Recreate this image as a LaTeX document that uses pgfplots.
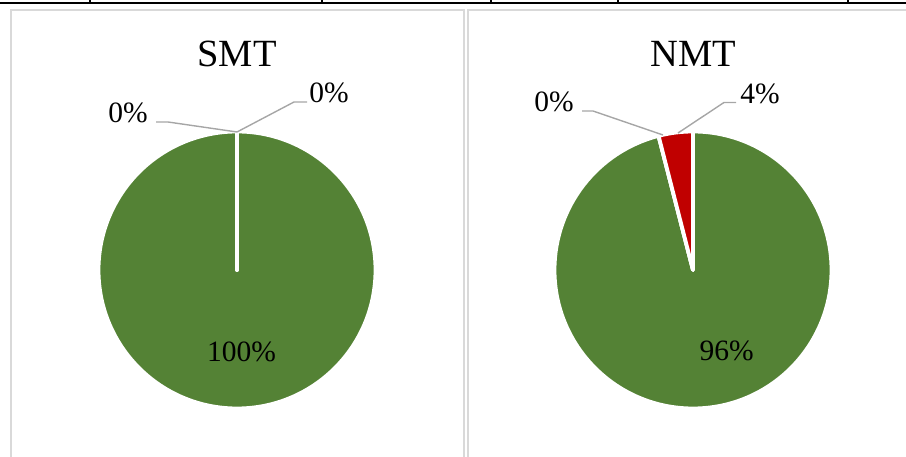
\documentclass[border=0pt]{standalone}
\usepackage{pgfplots}
\usepackage{pgfplotstable}
\pgfplotsset{compat=1.18}
\usepackage{fontspec}
\setmainfont{Liberation Serif}

\definecolor{pieGreen}{HTML}{548235}
\definecolor{pieRed}{HTML}{C00000}
\definecolor{pieOrange}{HTML}{ED7D31}
\definecolor{leaderGray}{HTML}{A6A6A6}
\definecolor{frameGray}{HTML}{D9D9D9}

% shares in percent, in clockwise order from 12 o'clock
\pgfplotstableread{
share
100
0
0
}\smtdata
\pgfplotstableread{
share
96
0
4
}\nmtdata

\newcommand\pieR{138.5}
% one slice: start angle, end angle, colour
\newcommand\pieslice[3]{%
  \filldraw[fill=#3, draw=white, line width=3.8pt, line join=round]
    (axis cs:0,0) -- ++(#1:\pieR pt)
    arc[start angle=#1, end angle=#2, radius=\pieR pt] -- cycle;}

\newcommand\labelfont{\fontsize{29.5}{31}\selectfont}
\newcommand\titlefont{\fontsize{38.5}{40}\selectfont}

\begin{document}
\begin{tikzpicture}[x=1pt,y=1pt]
\useasboundingbox (0,0) rectangle (906,457);

% slice angles and label values
\pgfplotstablegetelem{0}{share}\of\smtdata \let\smtVa\pgfplotsretval
\pgfplotstablegetelem{1}{share}\of\smtdata \let\smtVb\pgfplotsretval
\pgfplotstablegetelem{2}{share}\of\smtdata \let\smtVc\pgfplotsretval
\pgfmathsetmacro\smtA{90-3.6*\smtVa}
\pgfmathsetmacro\smtB{\smtA-3.6*\smtVb}
\pgfmathsetmacro\smtC{\smtB-3.6*\smtVc}
\pgfplotstablegetelem{0}{share}\of\nmtdata \let\nmtVa\pgfplotsretval
\pgfplotstablegetelem{1}{share}\of\nmtdata \let\nmtVb\pgfplotsretval
\pgfplotstablegetelem{2}{share}\of\nmtdata \let\nmtVc\pgfplotsretval
\pgfmathsetmacro\nmtA{90-3.6*\nmtVa}
\pgfmathsetmacro\nmtB{\nmtA-3.6*\nmtVb}
\pgfmathsetmacro\nmtC{\nmtB-3.6*\nmtVc}

% table rule above the charts
\draw[black, line width=2pt] (0,453.5) -- (906,453.5);
\foreach \tx in {90,322,491,618,848}
  \draw[black, line width=1.5pt] (\tx,458) -- (\tx,453.5);

% chart frames
\draw[frameGray, line width=2pt] (10.5,-5) -- (10.5,447) -- (463.5,447) -- (463.5,-5);
\draw[frameGray, line width=2pt] (467.5,-5) -- (467.5,447) -- (912,447);

% SMT
\begin{axis}[hide axis, x=1pt, y=1pt, xmin=-140, xmax=140, ymin=-140, ymax=140,
  clip=false, anchor=origin, at={(237,187)}]
  \pieslice{90}{\smtA}{pieGreen}
  \pieslice{\smtA}{\smtB}{pieOrange}
  \pieslice{\smtB}{\smtC}{pieRed}
  \draw[leaderGray, line width=1.4pt] (axis cs:-81,148) -- (axis cs:-69,148) -- (axis cs:0,138);
  \draw[leaderGray, line width=1.4pt] (axis cs:0,138) -- (axis cs:57,168) -- (axis cs:70,168);
  \node[anchor=base, inner sep=0pt] at (axis cs:0,203.5) {\titlefont SMT};
  \node[anchor=base, inner sep=0pt] at (axis cs:4.5,-92) {\labelfont\smtVa\%};
  \node[anchor=base, inner sep=0pt] at (axis cs:-109,147) {\labelfont\smtVb\%};
  \node[anchor=base, inner sep=0pt] at (axis cs:92,167) {\labelfont\smtVc\%};
\end{axis}

% NMT
\begin{axis}[hide axis, x=1pt, y=1pt, xmin=-140, xmax=140, ymin=-140, ymax=140,
  clip=false, anchor=origin, at={(693,187)}]
  \pieslice{90}{\nmtA}{pieGreen}
  \pieslice{\nmtA}{\nmtB}{pieOrange}
  \pieslice{\nmtB}{\nmtC}{pieRed}
  \draw[leaderGray, line width=1.4pt] (axis cs:-111,159) -- (axis cs:-100,159) -- (axis cs:-30,135);
  \draw[leaderGray, line width=1.4pt] (axis cs:-15,137) -- (axis cs:31,167.5) -- (axis cs:43,167.5);
  \node[anchor=base, inner sep=0pt] at (axis cs:0,203.5) {\titlefont NMT};
  \node[anchor=base, inner sep=0pt] at (axis cs:33.7,-91) {\labelfont\nmtVa\%};
  \node[anchor=base, inner sep=0pt] at (axis cs:-139,158.3) {\labelfont\nmtVb\%};
  \node[anchor=base, inner sep=0pt] at (axis cs:67,166.7) {\labelfont\nmtVc\%};
\end{axis}
\end{tikzpicture}
\end{document}
